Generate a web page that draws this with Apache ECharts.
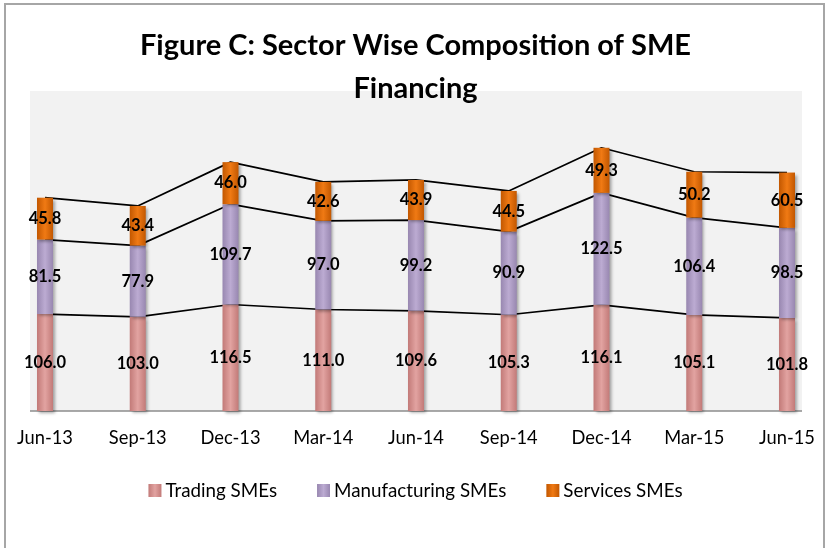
<!DOCTYPE html>
<html>
<head>
<meta charset="utf-8">
<script src="https://cdn.jsdelivr.net/npm/echarts@6/dist/echarts.min.js"></script>
<style>
html,body{margin:0;padding:0;background:#fff;}
#c{width:831px;height:548px;}
</style>
</head>
<body>
<div id="c"></div>
<script>
const categories = ['Jun-13','Sep-13','Dec-13','Mar-14','Jun-14','Sep-14','Dec-14','Mar-15','Jun-15'];
const trading = [106.0,103.0,116.5,111.0,109.6,105.3,116.1,105.1,101.8];
const manufacturing = [81.5,77.9,109.7,97.0,99.2,90.9,122.5,106.4,98.5];
const services = [45.8,43.4,46.0,42.6,43.9,44.5,49.3,50.2,60.5];

const FONT = 'Lato';
function grad(edge, mid){
  return new echarts.graphic.LinearGradient(0,0,1,0,[
    {offset:0,color:edge},{offset:0.5,color:mid},{offset:1,color:edge}
  ]);
}
const labelStyle = {show:true, position:'inside', color:'#000', fontWeight:'bold', fontSize:16.5, fontFamily:FONT,
  formatter: p => p.value.toFixed(1)};
function bar(name, data, edge, mid){
  return {name, type:'bar', stack:'b', data, barWidth:16, z:3,
    itemStyle:{color:grad(edge, mid), shadowBlur:3, shadowColor:'rgba(0,0,0,0.35)', shadowOffsetX:2, shadowOffsetY:2},
    label:labelStyle};
}
function line(data){
  return {type:'line', stack:'l', data, symbol:'none', silent:true, z:1,
    lineStyle:{color:'#000', width:1.7}, itemStyle:{color:'#000'}, legendHoverLink:false};
}
const chart = echarts.init(document.getElementById('c'), null, {renderer:'canvas'});
chart.setOption({
  animation:false,
  backgroundColor:'#fff',
  textStyle:{fontFamily:FONT},
  title:{text:'Figure C: Sector Wise Composition of SME\nFinancing', left:'center', top:19,
    textStyle:{fontFamily:FONT, fontWeight:'bold', fontSize:29, color:'#000', lineHeight:43}},
  graphic:[
    {type:'rect', z:-10, shape:{x:5,y:4,width:819,height:560}, style:{fill:'#fff', stroke:'#a6a6a6', lineWidth:2}},
    {type:'rect', z:-9, shape:{x:30,y:91,width:772,height:320}, style:{fill:'#f2f2f2'}},
    {type:'line', z:-8, shape:{x1:30,y1:411,x2:802,y2:411}, style:{stroke:'#8c8c8c', lineWidth:1.5}}
  ],
  grid:{left:45, right:44, top:91, bottom:137},
  legend:{data:['Trading SMEs','Manufacturing SMEs','Services SMEs'], top:476, left:'center', itemWidth:13, itemHeight:13, itemGap:40,
    icon:'rect', textStyle:{fontFamily:FONT, fontSize:18.8, color:'#000', padding:[0,0,0,-1]}},
  xAxis:{type:'category', data:categories, boundaryGap:false, axisLine:{show:false}, axisTick:{show:false},
    axisLabel:{margin:18, fontSize:18.3, color:'#000', fontFamily:FONT}},
  yAxis:{type:'value', min:0, max:350, show:false, splitLine:{show:false}},
  series:[
    bar('Trading SMEs', trading, '#c27a78', '#e2a3a1'),
    bar('Manufacturing SMEs', manufacturing, '#9887b0', '#bcabd2'),
    bar('Services SMEs', services, '#c25700', '#f07a14'),
    line(trading), line(manufacturing), line(services)
  ]
});
</script>
</body>
</html>
